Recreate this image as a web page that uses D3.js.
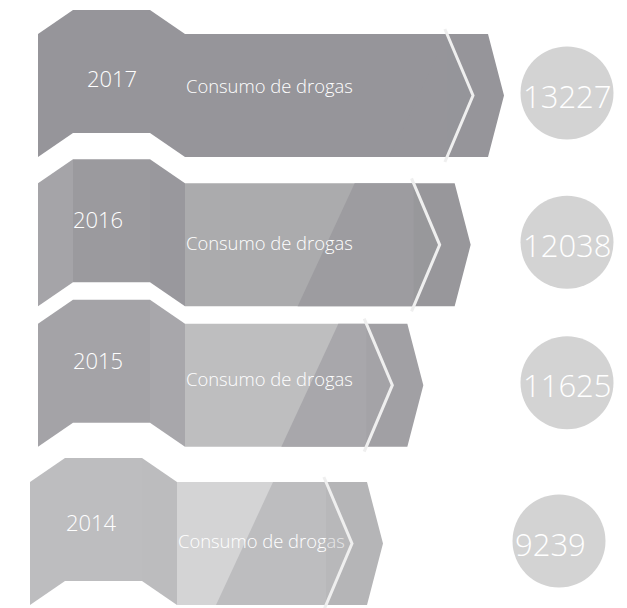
<!DOCTYPE html>
<html>
<head>
<meta charset="utf-8">
<script src="https://cdn.jsdelivr.net/npm/d3@7/dist/d3.min.js"></script>
<style>
  html, body { margin: 0; padding: 0; background: #ffffff; }
  svg { display: block; }
  text { font-family: "Open Sans", "Noto Sans", sans-serif; fill: #ffffff; font-weight: 350; }
</style>
</head>
<body>
<svg id="chart" width="627" height="608"></svg>
<script>
// Yearly totals, one row per year
const years = ["2017", "2016", "2015", "2014"];
const totals = [13227, 12038, 11625, 9239];
const captions = ["Consumo de drogas", "Consumo de drogas", "Consumo de drogas", "Consumo de drogas"];

// Per-row look: shades of the folded tab, the panel, its shading and the arrow head
const rowStyle = [
  { tabA: "#96959a", tabB: "#96959a", tabC: "#96959a", panel: "#96959a", shade: "#96959a", tri: "#96959a", head: "#96959a",
    shadeDx: 0, nudgeX: 0, nudgeY: 0, tipDx: 0, yearDx: 74, yearDy: 77, capDy: 83 },
  { tabA: "#a5a4a8", tabB: "#9b9a9e", tabC: "#99989d", panel: "#ababad", shade: "#9d9ca0", tri: "#8f8e93", head: "#98979b",
    shadeDx: 59, nudgeX: 0, nudgeY: 0, tipDx: 7, yearDx: 60, yearDy: 69, capDy: 91 },
  { tabA: "#a4a3a7", tabB: "#a4a3a7", tabC: "#a8a7ab", panel: "#bebebf", shade: "#a8a7ab", tri: "#9c9ba0", head: "#a1a0a4",
    shadeDx: 28, nudgeX: 0, nudgeY: -9, tipDx: 0, yearDx: 60, yearDy: 69, capDy: 86 },
  { tabA: "#bdbdbf", tabB: "#bdbdbf", tabC: "#bcbcbe", panel: "#d4d4d5", shade: "#bdbdbf", tri: "#ababae", head: "#b5b5b7",
    shadeDx: 53, nudgeX: -8, nudgeY: 0, tipDx: 0, yearDx: 61, yearDy: 73, capDy: 90 }
];

const rows = years.map((y, i) => ({ year: y, total: totals[i], caption: captions[i], st: rowStyle[i] }));

const svg = d3.select("#chart");

// Row placement and arrow length (longest arrow for the most recent year)
const rowTop = d3.scalePoint().domain(years).range([10, 458]);
const tipX = d3.scalePoint().domain(years).range([504, 383]);

const H = 147;        // row height
const CH = 24;        // chamfer depth of the tab
const TAB = 147;      // tab width
const left0 = 38;
const R = 46.5;       // badge radius

const line = d3.line();

const g = svg.selectAll("g.row").data(rows).join("g").attr("class", "row");

g.each(function (d) {
  const s = d.st;
  const T = rowTop(d.year) + s.nudgeY;
  const L = left0 + s.nudgeX;
  const P = L + TAB;
  const tip = tipX(d.year) + s.tipDx;
  const corner = tip - 16;
  const cPt = tip - 31;
  const cTop = tip - 57;
  const top = T + CH, bot = T + H, mid = (top + bot) / 2;
  const sel = d3.select(this);

  // folded tab, three faces
  sel.append("path").attr("fill", s.tabA)
    .attr("d", line([[L, top], [L + 35, T], [L + 35, T + H - CH], [L, bot]]) + "Z");
  sel.append("path").attr("fill", s.tabB)
    .attr("d", line([[L + 35, T], [L + 112, T], [L + 112, T + H - CH], [L + 35, T + H - CH]]) + "Z");
  sel.append("path").attr("fill", s.tabC)
    .attr("d", line([[L + 112, T], [P, top], [P, bot], [L + 112, T + H - CH]]) + "Z");

  // panel with its diagonal shading
  sel.append("path").attr("fill", s.panel)
    .attr("d", line([[P, top], [cTop, top], [cPt, mid], [cTop, bot], [P, bot]]) + "Z");
  const sTop = cTop - s.shadeDx;
  sel.append("path").attr("fill", s.shade)
    .attr("d", line([[sTop, top], [cTop, top], [cPt, mid], [cTop, bot], [sTop - 57, bot]]) + "Z");

  // arrow head
  sel.append("path").attr("fill", s.head)
    .attr("d", line([[cTop, top], [corner, top], [tip, mid], [corner, bot], [cTop, bot], [cPt, mid]]) + "Z");

  // labels
  sel.append("text")
    .attr("x", L + s.yearDx).attr("y", T + s.yearDy)
    .attr("text-anchor", "middle")
    .style("font-size", "22px")
    .text(d.year);
  sel.append("text")
    .attr("x", P + 1).attr("y", T + s.capDy)
    .style("font-size", "18.4px")
    .text(d.caption);

  // darker fold just before the chevron, laid over the caption
  sel.append("path").attr("fill", s.tri).attr("fill-opacity", 0.3)
    .attr("d", line([[cTop, top], [cPt, mid], [cTop, bot]]) + "Z");

  // chevron cut between panel and head
  const ext = 5, k = (cPt - cTop) / (mid - top);
  sel.append("path")
    .attr("fill", "none").attr("stroke", "#efefef").attr("stroke-width", 3)
    .attr("d", line([[cTop - k * ext, top - ext], [cPt, mid], [cTop - k * ext, bot + ext]]));

  // total badge, value written from its left side
  const cx = 567 + s.nudgeX, cy = T + 83;
  sel.append("circle").attr("cx", cx).attr("cy", cy).attr("r", R).attr("fill", "#d3d3d3");
  sel.append("text")
    .attr("x", cx - R + 2.5).attr("y", cy + 14.5)
    .style("font-size", "31px")
    .text(d.total);
});
</script>
</body>
</html>
